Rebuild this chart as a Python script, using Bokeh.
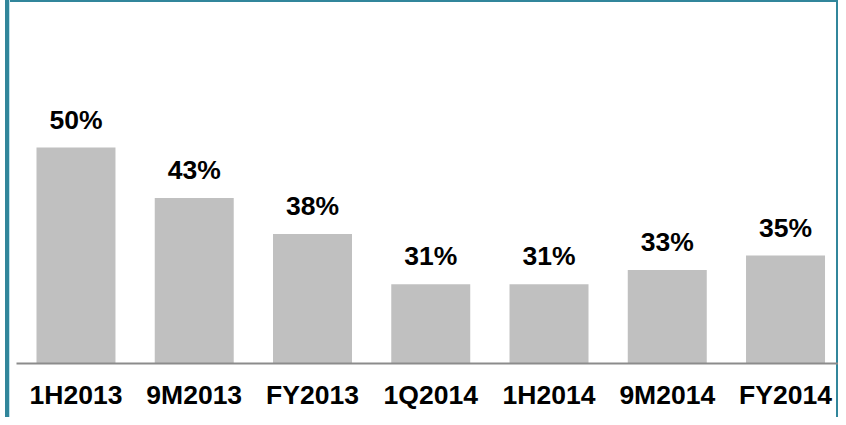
from bokeh.plotting import figure
from bokeh.models import ColumnDataSource, Range1d, FixedTicker
from bokeh.core.properties import value
from bokeh.embed import file_html
from bokeh.resources import INLINE

periods = ["1H2013", "9M2013", "FY2013", "1Q2014", "1H2014", "9M2014", "FY2014"]
shares = [50, 43, 38, 31, 31, 33, 35]
share_labels = ["50%", "43%", "38%", "31%", "31%", "33%", "35%"]

pos = list(range(len(periods)))
src = ColumnDataSource(dict(pos=pos, period=periods, share=shares, label=share_labels))

TEAL = "#31869b"

p = figure(x_range=Range1d(-0.503, 6.448), y_range=Range1d(20, 70), width=838, height=417,
           output_backend="svg", toolbar_location=None,
           min_border_left=16, min_border_right=0, min_border_top=3, min_border_bottom=54)

p.vbar(x="pos", top="share", bottom=20, width=0.668, source=src,
       fill_color="#c0c0c0", line_color=None)

p.text(x="pos", y="share", text="label", source=src,
       text_align="center", text_baseline="alphabetic", y_offset=-28,
       text_font=value("Liberation Sans"), text_font_style="bold",
       text_font_size="26.5px", text_color="#000000")

p.yaxis.visible = False
p.xgrid.grid_line_color = None
p.ygrid.grid_line_color = None
p.outline_line_color = None
p.background_fill_color = None
p.border_fill_color = None

ax = p.xaxis[0]
ax.ticker = FixedTicker(ticks=pos)
ax.major_label_overrides = {i: name for i, name in zip(pos, periods)}
ax.axis_line_color = "#8c8c8c"
ax.axis_line_width = 2
ax.major_tick_line_color = None
ax.minor_tick_line_color = None
ax.major_label_standoff = 10
ax.major_label_text_font = "Liberation Sans"
ax.major_label_text_font_style = "bold"
ax.major_label_text_font_size = "26.5px"
ax.major_label_text_color = "#000000"

p.styles = {
    "background-color": "#ffffff",
    "box-shadow": ("inset 5px 0 0 0 #ffffff, inset 9px 0 0 0 " + TEAL +
                   ", inset 10px 0 0 0 #bfe2ec, inset 0 2px 0 0 " + TEAL +
                   ", inset -2px 0 0 0 " + TEAL),
}

open("out.html", "w").write(file_html(p, INLINE))
